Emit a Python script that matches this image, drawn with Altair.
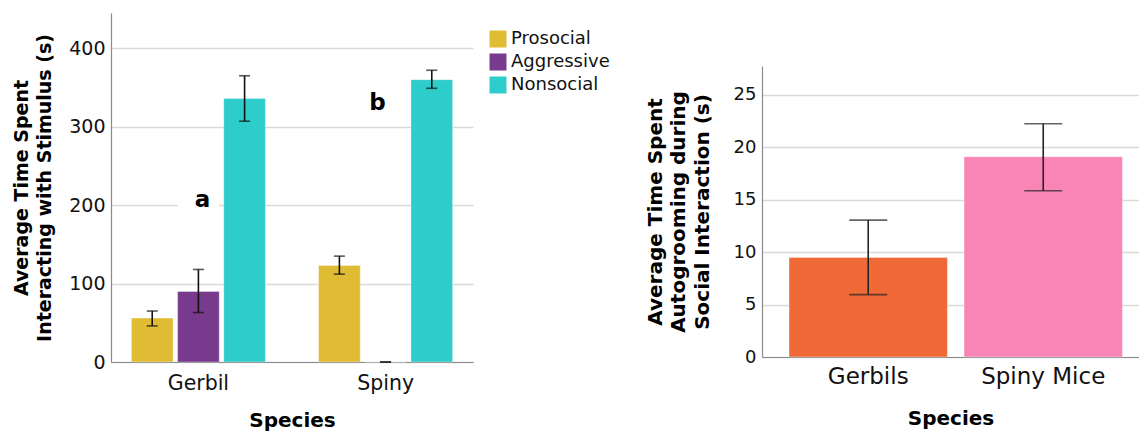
import altair as alt
import pandas as pd

# ---- Panel A: time spent interacting with the stimulus ----
species = ["Gerbil", "Spiny"]
behaviours = ["Prosocial", "Aggressive", "Nonsocial"]
behaviour_colors = ["#E0BC34", "#773A8D", "#2ECCCA"]
gerbil_mean = [56, 90, 336]
gerbil_low = [46, 63, 307]
gerbil_high = [65, 118, 365]
spiny_mean = [123, 0, 360]
spiny_low = [112, 0, 349]
spiny_high = [135, 0, 372]
y_ticks_a = [0, 100, 200, 300, 400]

# ---- Panel B: autogrooming during social interaction ----
groom_species = ["Gerbils", "Spiny Mice"]
groom_mean = [9.5, 19.1]
groom_low = [5.95, 15.85]
groom_high = [13.05, 22.25]
groom_colors = ["#F06A38", "#F985B6"]
y_ticks_b = [0, 5, 10, 15, 20, 25]

FONT = "DejaVu Sans"

rows = []
for sp, means, lows, highs in [
    ("Gerbil", gerbil_mean, gerbil_low, gerbil_high),
    ("Spiny", spiny_mean, spiny_low, spiny_high),
]:
    for b, m, lo, hi in zip(behaviours, means, lows, highs):
        rows.append({"species": sp, "behaviour": b, "mean": m, "low": lo, "high": hi})
df_a = pd.DataFrame(rows)

letters = pd.DataFrame({"species": ["Gerbil", "Spiny"],
                        "behaviour": ["Aggressive", "Aggressive"],
                        "letter": ["a", "b"],
                        "ypos": [207, 330]})

x_a = alt.X("species:N", sort=species,
            scale=alt.Scale(paddingInner=0.284, paddingOuter=0.109),
            axis=alt.Axis(title="Species", labelAngle=0, labelFontSize=20.5,
                          labelPadding=11, titlePadding=17, titleFontSize=20))
xo_a = alt.XOffset("behaviour:N", sort=behaviours,
                   scale=alt.Scale(paddingInner=0.098, paddingOuter=0))
y_a = alt.Y("mean:Q",
            scale=alt.Scale(domain=[0, 445], nice=False),
            axis=alt.Axis(values=y_ticks_a, grid=True, labelFontSize=19,
                          labelPadding=6, titlePadding=14,
                          title=["Average Time Spent", "Interacting with Stimulus (s)"],
                          titleFontSize=19, titleLineHeight=23))

base_a = alt.Chart(df_a)

bars_a = base_a.mark_bar(strokeWidth=1, strokeOpacity=0.35, stroke="white").encode(
    x=x_a, xOffset=xo_a, y=y_a,
    color=alt.Color("behaviour:N", sort=behaviours,
                    scale=alt.Scale(domain=behaviours, range=behaviour_colors),
                    legend=alt.Legend(title=None, orient="none", legendX=378, legendY=17,
                                      symbolType="square", symbolSize=289,
                                      symbolStrokeWidth=0, labelFontSize=18,
                                      labelFont=FONT, labelColor="#111",
                                      rowPadding=5, labelOffset=4, padding=0)),
)

# white patch behind the "a" label, interrupting the gridline
backdrop = alt.Chart(letters).transform_filter(alt.datum.letter == "a").mark_rect(
    color="white").encode(
    x=alt.X("species:N", sort=species), xOffset=alt.XOffset("behaviour:N", sort=behaviours),
    y=alt.datum(190), y2=alt.datum(225),
)

err_a = base_a.mark_rule(color="#111", strokeWidth=1.6).encode(
    x=alt.X("species:N", sort=species), xOffset=alt.XOffset("behaviour:N", sort=behaviours),
    y="low:Q", y2="high:Q")
cap_lo_a = base_a.mark_tick(color="#111", thickness=1.6, size=11).encode(
    x=alt.X("species:N", sort=species), xOffset=alt.XOffset("behaviour:N", sort=behaviours),
    y="low:Q")
cap_hi_a = base_a.mark_tick(color="#111", thickness=1.6, size=11).encode(
    x=alt.X("species:N", sort=species), xOffset=alt.XOffset("behaviour:N", sort=behaviours),
    y="high:Q")

letter_a = alt.Chart(letters).transform_filter(alt.datum.letter == "a").mark_text(
    font=FONT, fontWeight="bold", fontSize=23, color="#000", dx=4, baseline="middle").encode(
    x=alt.X("species:N", sort=species), xOffset=alt.XOffset("behaviour:N", sort=behaviours),
    y=alt.Y("ypos:Q"), text="letter:N")
letter_b = alt.Chart(letters).transform_filter(alt.datum.letter == "b").mark_text(
    font=FONT, fontWeight="bold", fontSize=23, color="#000", dx=-8, baseline="middle").encode(
    x=alt.X("species:N", sort=species), xOffset=alt.XOffset("behaviour:N", sort=behaviours),
    y=alt.Y("ypos:Q"), text="letter:N")

panel_a = alt.layer(bars_a, backdrop, err_a, cap_lo_a, cap_hi_a, letter_a, letter_b).properties(
    width=362, height=349)

# ---- Panel B ----
df_b = pd.DataFrame({"species": groom_species, "mean": groom_mean,
                     "low": groom_low, "high": groom_high})
base_b = alt.Chart(df_b)
x_b = alt.X("species:N", sort=groom_species,
            scale=alt.Scale(paddingInner=0.095, paddingOuter=0.1246, align=0.62),
            axis=alt.Axis(title="Species", labelAngle=0, labelFontSize=23,
                          labelPadding=8, titlePadding=20, titleFontSize=20))
y_b = alt.Y("mean:Q",
            scale=alt.Scale(domain=[0, 27.75], nice=False),
            axis=alt.Axis(values=y_ticks_b, grid=True, labelFontSize=18,
                          labelPadding=6, titlePadding=21,
                          title=["Average Time Spent", "Autogrooming during",
                                 "Social Interaction (s)"],
                          titleFontSize=20, titleLineHeight=23.5))

bars_b = base_b.mark_bar(strokeWidth=1, strokeOpacity=0.35, stroke="white").encode(
    x=x_b, y=y_b,
    color=alt.Color("species:N", sort=groom_species,
                    scale=alt.Scale(domain=groom_species, range=groom_colors),
                    legend=None))
err_b = base_b.mark_rule(color="#222", strokeWidth=1.6).encode(
    x=alt.X("species:N", sort=groom_species), y="low:Q", y2="high:Q")
cap_lo_b = base_b.mark_tick(color="#222", thickness=1.6, size=38).encode(
    x=alt.X("species:N", sort=groom_species), y="low:Q")
cap_hi_b = base_b.mark_tick(color="#222", thickness=1.6, size=38).encode(
    x=alt.X("species:N", sort=groom_species), y="high:Q")

panel_b = alt.layer(bars_b, err_b, cap_lo_b, cap_hi_b).properties(width=377, height=291)

# empty strip that lowers panel B relative to panel A
spacer = alt.Chart(df_b).mark_point(opacity=0).encode(
    x=alt.value(0), y=alt.value(0)).properties(width=377, height=33)

right_col = alt.vconcat(spacer, panel_b, spacing=20)

chart = alt.hconcat(panel_a, right_col, spacing=35).resolve_scale(
    color="independent", x="independent", y="independent", xOffset="independent"
).properties(
    padding={"left": 12, "top": 10, "right": 0, "bottom": 0},
    background="white",
).configure_axis(
    labelFont=FONT, titleFont=FONT, labelColor="#111", titleColor="#000",
    titleFontWeight="bold", domainColor="#8a8a8a", domainWidth=1.2,
    ticks=False, gridColor="#d9d9d9", gridWidth=1.6,
).configure_axisX(grid=False).configure_view(stroke=None)

chart.save("out.html", embed_options={"renderer": "svg", "actions": False})
